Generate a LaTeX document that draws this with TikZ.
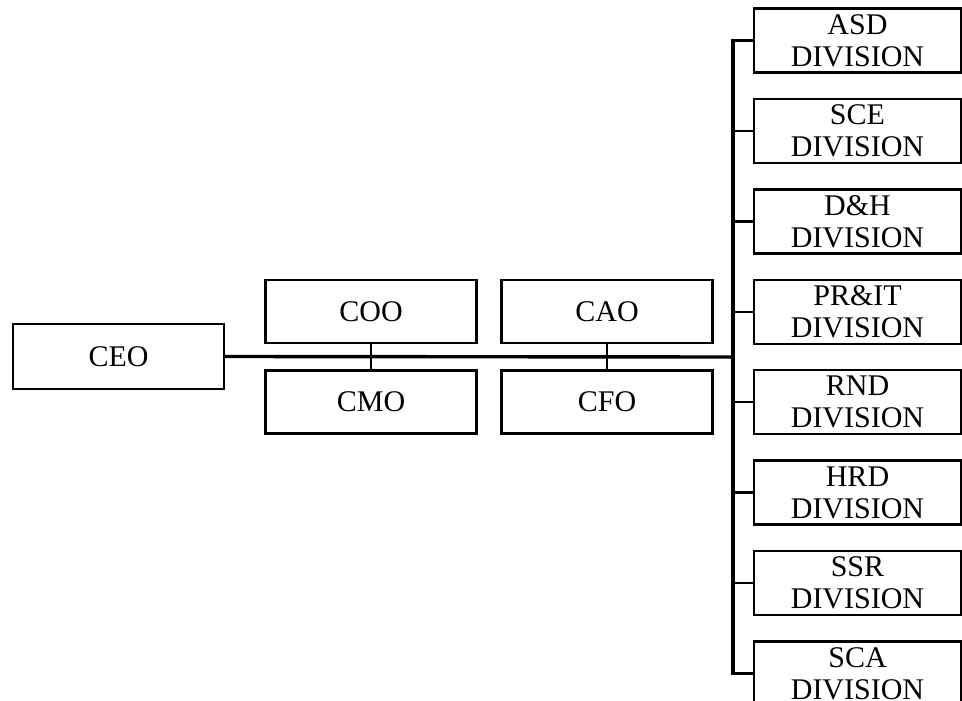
\documentclass[tikz,border=0pt]{standalone}
\usepackage{fontspec}
\setmainfont{Liberation Serif}
\begin{document}
\begin{tikzpicture}[x=1pt,y=-1pt,
  box/.style={draw, line width=2.4pt, rectangle, inner sep=0pt, align=center,
    font=\fontsize{30}{32}\selectfont},
  exec/.style={box, minimum width=211pt, minimum height=63pt},
  division/.style={box, minimum width=207pt, minimum height=64pt},
  link/.style={line width=2.4pt},
  trunk/.style={line width=3.4pt, line cap=rect}]
\useasboundingbox (0,0) rectangle (962,701);

% executive board
\node[exec, minimum height=65pt] (ceo) at (118.5,356.5) {CEO};
\node[exec] (coo) at (371,311.5) {COO};
\node[exec] (cmo) at (371,402) {CMO};
\node[exec] (cao) at (607,311.5) {CAO};
\node[exec] (cfo) at (607,402) {CFO};

% divisions
\foreach \n/\lbl [count=\i from 0] in
  {asd/ASD, sce/SCE, dh/D\&H, prit/PR\&IT, rnd/RND, hrd/HRD, ssr/SSR, sca/SCA}
  \node[division] (\n) at (857.5,{40.5+90.4*\i}) {\lbl\\DIVISION};

% vertical bus feeding the divisions
\coordinate (bus) at (733,357);
\draw[trunk] (bus |- asd.west) -- (bus |- sca.west);
\foreach \n in {asd, sce, dh, prit, rnd, hrd, ssr, sca}
  \draw[link] (bus |- \n.west) -- (\n.west);

% main line from the CEO to the bus
\draw[trunk, line cap=butt] (ceo.east) -- (bus);

% pairs of officers joined across the main line
\draw[link] (coo.south) -- (cmo.north);
\draw[link] (cao.south) -- (cfo.north);
\end{tikzpicture}
\end{document}
